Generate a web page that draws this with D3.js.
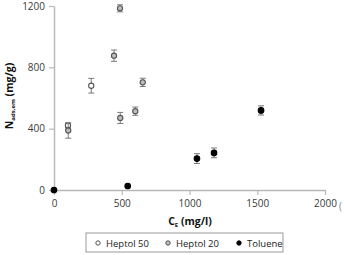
<!DOCTYPE html>
<html>
<head>
<meta charset="utf-8">
<script src="https://cdn.jsdelivr.net/npm/d3@7"></script>
<style>
  body { margin: 0; background: #fff; }
  text { font-family: "Open Sans", "DejaVu Sans", sans-serif; }
</style>
</head>
<body>
<div id="chart"></div>
<script>
// Data
var heptol50X   = [103, 275];
var heptol50Y   = [421, 680];
var heptol50Err = [15, 48];

var heptol20X   = [105, 443, 487, 489, 600, 655];
var heptol20Y   = [388, 876, 1185, 470, 514, 702];
var heptol20Err = [50, 37, 23, 36, 27, 27];

var tolueneX    = [0, 544, 1055, 1181, 1528];
var tolueneY    = [0, 26, 205, 242, 519];
var tolueneErr  = [0, 0, 32, 32, 30];

var xTicks      = [0, 500, 1000, 1500, 2000];
var yTicks      = [0, 400, 800, 1200];
var seriesNames = ["Heptol 50", "Heptol 20", "Toluene"];

// Size
var chart_width  = 344;
var chart_height = 255;
var axisColor    = "#b8b8b8";

var x = d3.scaleLinear().domain([0, 2000]).range([54, 325]);
var y = d3.scaleLinear().domain([0, 1200]).range([190, 6]);

var svg = d3.select("#chart")
    .append("svg")
    .attr("width", chart_width)
    .attr("height", chart_height);

// Axes
var xAxis = svg.append("g")
    .attr("transform", "translate(0,190)")
    .call(d3.axisBottom(x).tickValues(xTicks).tickFormat(d3.format("d"))
        .tickSize(5).tickSizeOuter(0).tickPadding(5));
var yAxis = svg.append("g")
    .attr("transform", "translate(54,0)")
    .call(d3.axisLeft(y).tickValues(yTicks).tickFormat(d3.format("d"))
        .tickSize(5).tickSizeOuter(0).tickPadding(4));

[xAxis, yAxis].forEach(function(a) {
    a.select(".domain").attr("stroke", axisColor).attr("stroke-width", 1.5);
    a.selectAll(".tick line").attr("stroke", axisColor).attr("stroke-width", 1.2);
    a.selectAll(".tick text")
        .attr("fill", "#3a3a3a")
        .style("font-size", "10px")
        .style("font-family", "'Open Sans', sans-serif");
});

// stray clipped label at far right
svg.append("text")
    .attr("x", 339).attr("y", 210)
    .attr("fill", "#888")
    .style("font-size", "10px")
    .text("(");

// Axis titles
svg.append("text")
    .attr("x", 190).attr("y", 225)
    .attr("text-anchor", "middle")
    .attr("fill", "#111")
    .style("font-size", "10.5px")
    .style("font-weight", "bold")
    .html('C<tspan dy="2" style="font-size:6px">E</tspan><tspan dy="-2"> (mg/l)</tspan>');

svg.append("text")
    .attr("transform", "translate(13,96) rotate(-90)")
    .attr("text-anchor", "middle")
    .attr("fill", "#111")
    .style("font-size", "10.5px")
    .style("font-weight", "bold")
    .html('N<tspan dy="2" style="font-size:6px">ads,em</tspan><tspan dy="-2"> (mg/g)</tspan>');

// Series
function drawSeries(xs, ys, errs, fill, stroke, r) {
    var pts = xs.map(function(d, i) { return { x: d, y: ys[i], e: errs[i] }; });
    var g = svg.append("g");
    var eb = g.selectAll("g.eb").data(pts.filter(function(d) { return d.e > 0; }))
        .enter().append("g")
        .attr("stroke", "#7a7a7a").attr("stroke-width", 1);
    eb.append("line")
        .attr("x1", function(d) { return x(d.x); }).attr("x2", function(d) { return x(d.x); })
        .attr("y1", function(d) { return y(d.y - d.e); }).attr("y2", function(d) { return y(d.y + d.e); });
    [-1, 1].forEach(function(s) {
        eb.append("line")
            .attr("x1", function(d) { return x(d.x) - 3; }).attr("x2", function(d) { return x(d.x) + 3; })
            .attr("y1", function(d) { return y(d.y + s * d.e); }).attr("y2", function(d) { return y(d.y + s * d.e); });
    });
    g.selectAll("circle").data(pts).enter().append("circle")
        .attr("cx", function(d) { return x(d.x); })
        .attr("cy", function(d) { return y(d.y); })
        .attr("r", r)
        .attr("fill", fill)
        .attr("stroke", stroke)
        .attr("stroke-width", 1.1);
}

drawSeries(heptol50X, heptol50Y, heptol50Err, "#ffffff", "#555", 2.6);
drawSeries(heptol20X, heptol20Y, heptol20Err, "#bdbdbd", "#555", 2.6);
drawSeries(tolueneX, tolueneY, tolueneErr, "#000000", "#000", 2.8);

// Legend
var legend = svg.append("g");
legend.append("rect")
    .attr("x", 86).attr("y", 233)
    .attr("width", 197).attr("height", 19)
    .attr("fill", "#fff")
    .attr("stroke", "#9a9a9a");

var legFill  = ["#ffffff", "#bdbdbd", "#000000"];
var legMarkX = [98, 168, 239];
seriesNames.forEach(function(n, i) {
    legend.append("circle")
        .attr("cx", legMarkX[i]).attr("cy", 243)
        .attr("r", 2.2)
        .attr("fill", legFill[i])
        .attr("stroke", i == 2 ? "#000" : "#555");
    legend.append("text")
        .attr("x", legMarkX[i] + 8).attr("y", 246.5)
        .attr("fill", "#222")
        .style("font-size", "9.5px")
        .text(n);
});
</script>
</body>
</html>
